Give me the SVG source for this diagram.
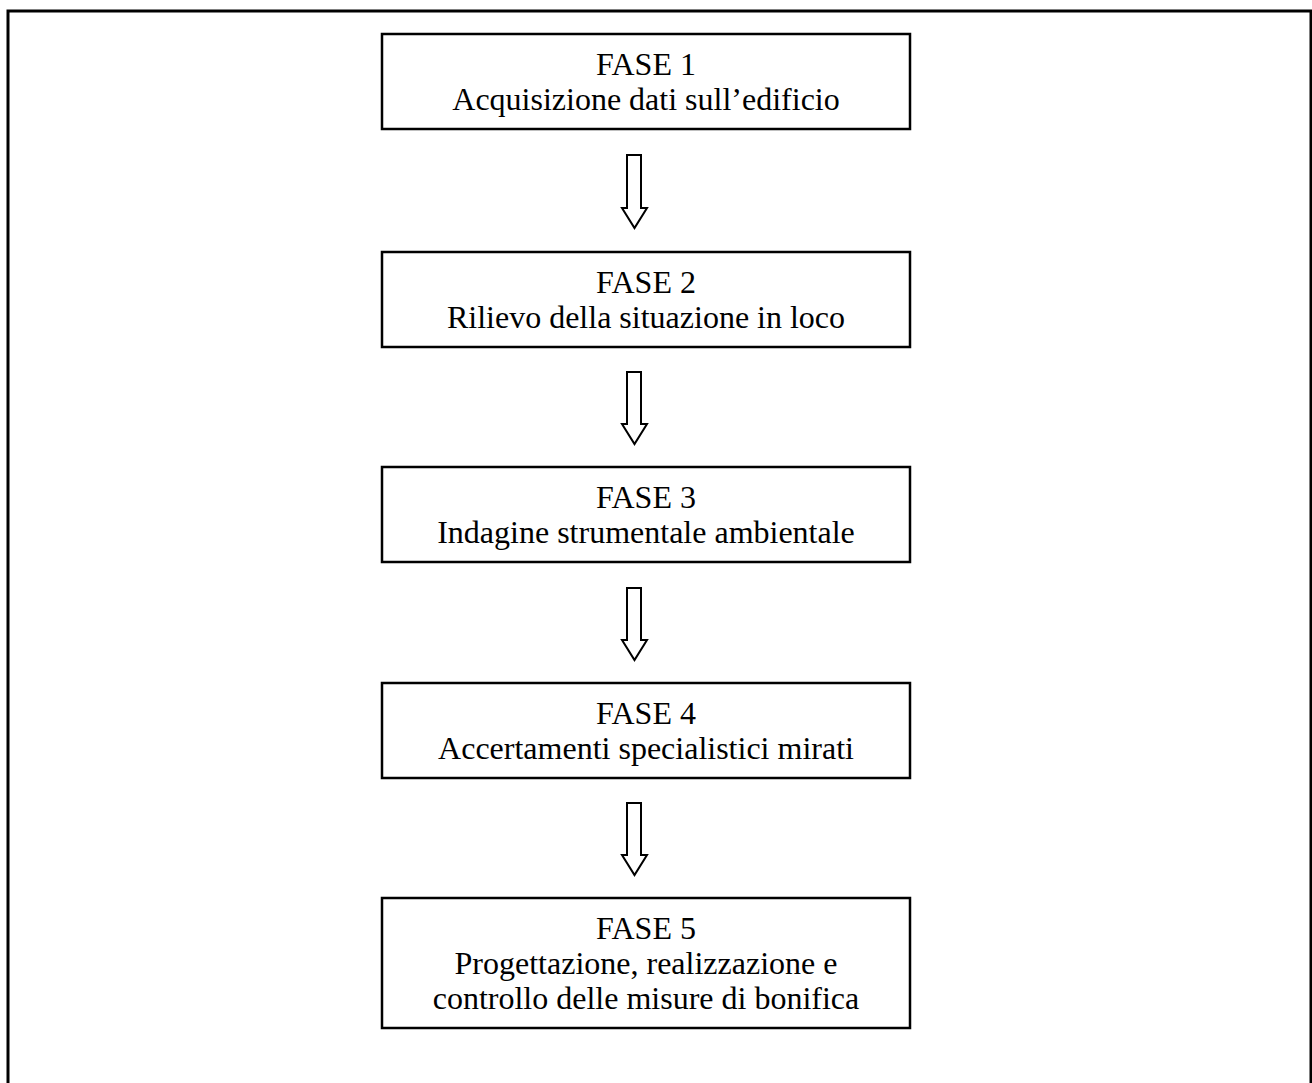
<svg xmlns="http://www.w3.org/2000/svg" width="1312" height="1083" viewBox="0 0 1312 1083">
<style>
.frame{fill:none;stroke:#000;stroke-width:3}
.box{fill:#fff;stroke:#000;stroke-width:2.5}
.arrow{fill:#fff;stroke:#000;stroke-width:2;stroke-linejoin:miter}
text{font-family:"Liberation Serif","Times New Roman",serif;font-size:32px;fill:#000;text-anchor:middle}
</style>
<rect width="1312" height="1083" fill="#fff"/>
<rect class="frame" x="8" y="11" width="1303" height="1090"/>
<g id="n1">
<rect class="box" x="382" y="34" width="528" height="95"/>
<text x="646" y="75">FASE 1</text>
<text x="646" y="110">Acquisizione dati sull’edificio</text>
</g>
<g id="n2">
<rect class="box" x="382" y="252" width="528" height="95"/>
<text x="646" y="293">FASE 2</text>
<text x="646" y="328">Rilievo della situazione in loco</text>
</g>
<g id="n3">
<rect class="box" x="382" y="467" width="528" height="95"/>
<text x="646" y="508">FASE 3</text>
<text x="646" y="543">Indagine strumentale ambientale</text>
</g>
<g id="n4">
<rect class="box" x="382" y="683" width="528" height="95"/>
<text x="646" y="724">FASE 4</text>
<text x="646" y="759">Accertamenti specialistici mirati</text>
</g>
<g id="n5">
<rect class="box" x="382" y="898" width="528" height="130"/>
<text x="646" y="939">FASE 5</text>
<text x="646" y="974">Progettazione, realizzazione e</text>
<text x="646" y="1009">controllo delle misure di bonifica</text>
</g>
<g id="connectors">
<path class="arrow" d="M627,155 H641 V208 H647 L634.5,228 L622,208 H627 Z"/>
<path class="arrow" d="M627,372 H641 V424 H647 L634.5,444 L622,424 H627 Z"/>
<path class="arrow" d="M627,588 H641 V640 H647 L634.5,660 L622,640 H627 Z"/>
<path class="arrow" d="M627,803 H641 V855 H647 L634.5,875 L622,855 H627 Z"/>
</g>
</svg>
